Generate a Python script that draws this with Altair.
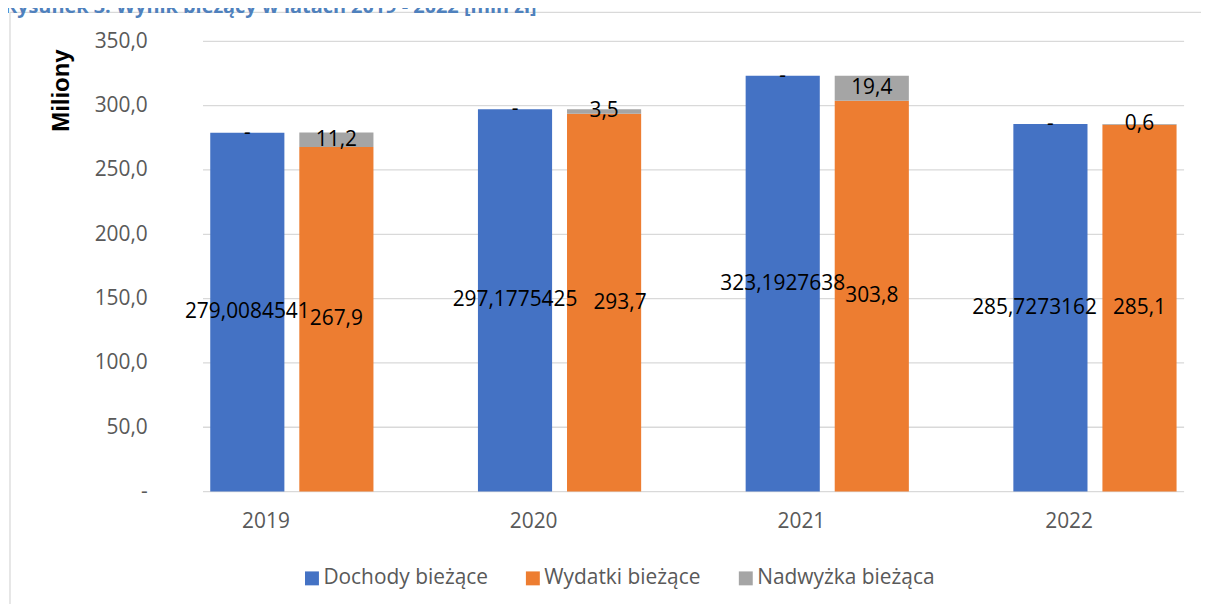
import altair as alt
import pandas as pd

years = ["2019", "2020", "2021", "2022"]
dochody = [279.0084541, 297.1775425, 323.1927638, 285.7273162]
wydatki = [267.9, 293.7, 303.8, 285.1]
nadwyzka = [11.2, 3.5, 19.4, 0.6]
series = ["Dochody bieżące", "Wydatki bieżące", "Nadwyżka bieżąca"]
colors = ["#4472C4", "#ED7D31", "#A5A5A5"]
y_ticks = [0, 50, 100, 150, 200, 250, 300, 350]
title_text = "Rysunek 3. Wynik bieżący w latach 2019 - 2022 [mln zł]"


def fmt1(v):
    return f"{v:.1f}".replace(".", ",")


rows = []
for i, yr in enumerate(years):
    rows.append(dict(year=yr, bar="D", series=series[0], value=dochody[i], order=0,
                     label=str(dochody[i]).replace(".", ",")))
    rows.append(dict(year=yr, bar="D", series=series[2], value=0.0, order=1, label="-"))
    rows.append(dict(year=yr, bar="W", series=series[1], value=wydatki[i], order=0,
                     label=fmt1(wydatki[i])))
    rows.append(dict(year=yr, bar="W", series=series[2], value=nadwyzka[i], order=1,
                     label=fmt1(nadwyzka[i])))
df = pd.DataFrame(rows)
grid_df = pd.DataFrame({"tick": y_ticks})

x_scale = alt.Scale(domain=years, range=[-45.25, 1030.95], paddingInner=0, paddingOuter=0)
xo_scale = alt.Scale(domain=["D", "W"], paddingInner=0.1676, paddingOuter=0.5866)
y_scale = alt.Scale(domain=[0, 350], nice=False, zero=True)
color_scale = alt.Scale(domain=series, range=colors)

x_axis = alt.Axis(title=None, domain=False, ticks=False, tickSize=0, grid=False,
                  labelPadding=30, labelBaseline="middle", labelOffset=-26,
                  labelAngle=0, labelFont="Open Sans", labelFontSize=21,
                  labelColor="#595959")
y_axis = alt.Axis(values=y_ticks, grid=False,
                  labelExpr="datum.value == 0 ? '-' : replace(format(datum.value, '.1f'), '.', ',')",
                  title="Miliony", titleX=-142, titleY=49, titleAngle=270,
                  titleAlign="center", titleBaseline="middle",
                  titleFont="Liberation Sans", titleFontSize=24, titleFontWeight="bold",
                  titleColor="#000000", domain=False, ticks=False, tickSize=0,
                  labelPadding=56, labelFont="Open Sans", labelFontSize=21,
                  labelColor="#595959")

grid = alt.Chart(grid_df).mark_rule(color="#d9d9d9", strokeWidth=1.3).encode(
    y=alt.Y("tick:Q", scale=y_scale, axis=y_axis),
    x=alt.value(0), x2=alt.value(986),
)

base = alt.Chart(df).transform_stack(
    stack="value", groupby=["year", "bar"], as_=["y0", "y1"],
    sort=[alt.SortField("order", "ascending")]
).transform_calculate(mid="(datum.y0 + datum.y1) / 2")

bars = base.mark_bar().encode(
    x=alt.X("year:N", scale=x_scale, sort=years, axis=x_axis),
    xOffset=alt.XOffset("bar:N", scale=xo_scale),
    y=alt.Y("y0:Q", scale=y_scale, axis=y_axis),
    y2="y1:Q",
    color=alt.Color("series:N", scale=color_scale,
                    legend=alt.Legend(title=None, orient="none", legendX=99, legendY=529,
                                      direction="horizontal", symbolType="square",
                                      symbolSize=196, symbolStrokeWidth=0,
                                      labelFont="Open Sans", labelFontSize=21,
                                      labelColor="#595959", labelOffset=1, labelLimit=400,
                                      columnPadding=34, padding=0)),
).transform_filter("datum.value > 0")


def label_layer(cond, dx):
    return base.transform_filter(cond).mark_text(
        font="Open Sans", fontSize=21, color="#000000", baseline="middle", dx=dx
    ).encode(
        x=alt.X("year:N", scale=x_scale, sort=years, axis=x_axis),
        xOffset=alt.XOffset("bar:N", scale=xo_scale),
        y=alt.Y("mid:Q", scale=y_scale, axis=y_axis),
        text="label:N",
    )


# Excel nudges two labels sideways to keep them from colliding
shift_right = "datum.year == '2020' && datum.series == 'Wydatki bieżące'"
shift_left = "datum.year == '2022' && datum.series == 'Dochody bieżące'"
labels_main = label_layer(f"!({shift_right}) && !({shift_left})", 0)
labels_r = label_layer(shift_right, 16)
labels_l = label_layer(shift_left, -16)

one = pd.DataFrame({"k": [0]})
border_top = alt.Chart(one).mark_rule(color="#d9d9d9", strokeWidth=1.3).encode(
    x=alt.value(-194), x2=alt.value(1005), y=alt.value(-29)
)
border_left = alt.Chart(one).mark_rule(color="#d9d9d9", strokeWidth=1.3).encode(
    x=alt.value(-194), y=alt.value(-29), y2=alt.value(569)
)
title = alt.Chart(one).mark_text(align="left", baseline="alphabetic", font="Open Sans",
                                 fontSize=20, fontWeight="bold", color="#4F81BD",
                                 text=title_text).encode(
    x=alt.value(-200), y=alt.value(-28)
)

chart = alt.layer(border_top, border_left, grid, bars, labels_main, labels_r, labels_l, title).properties(
    width=986, height=452.5,
    autosize=alt.AutoSizeParams(type="none"),
    padding={"left": 196, "top": 32, "right": 17, "bottom": 111.5},
).configure_view(stroke=None)

chart.save("out.html", embed_options={"renderer": "svg", "actions": False})
